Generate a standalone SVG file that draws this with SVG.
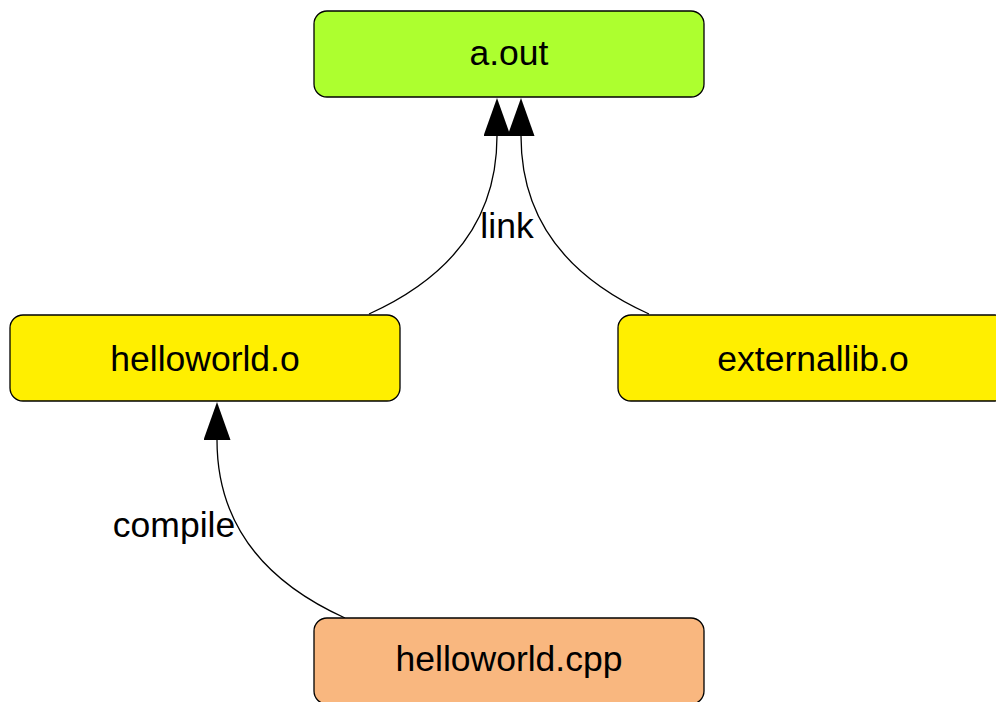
<svg xmlns="http://www.w3.org/2000/svg" width="996" height="702" viewBox="0 0 996 702">
<style>
.node rect{stroke:#000;stroke-width:1.3}
.node text,.lbl{font-family:"Liberation Sans",Arial,sans-serif;font-size:35.5px;fill:#000;text-anchor:middle}
.edge{fill:none;stroke:#000;stroke-width:1.3}
</style>
<defs>
<marker id="arr" viewBox="0 0 38 27" refX="0" refY="13.5" markerWidth="38" markerHeight="27" markerUnits="userSpaceOnUse" orient="auto">
<path d="M0,0 L38,13.5 L0,27 z" fill="#000"/>
</marker>
</defs>
<rect width="996" height="702" fill="#fff"/>
<g id="connectors">
<path class="edge" d="M369,314 C464,271 497,206 497,136" marker-end="url(#arr)"/>
<path class="edge" d="M649,314 C554,271 521,206 521,136" marker-end="url(#arr)"/>
<path class="edge" d="M345,618 C250,575 217,510 217,440" marker-end="url(#arr)"/>
<text class="lbl" x="507" y="238">link</text>
<text class="lbl" x="174" y="537">compile</text>
</g>
<g id="aout" class="node">
<rect x="314" y="11" width="390" height="86" rx="13" fill="#adff2f"/>
<text x="509" y="65">a.out</text>
</g>
<g id="helloworld_o" class="node">
<rect x="10" y="315" width="390" height="86" rx="13" fill="#ffef00"/>
<text x="205" y="371">helloworld.o</text>
</g>
<g id="externallib_o" class="node">
<rect x="618" y="315" width="390" height="86" rx="13" fill="#ffef00"/>
<text x="813" y="371">externallib.o</text>
</g>
<g id="helloworld_cpp" class="node">
<rect x="314" y="618" width="390" height="86" rx="13" fill="#f9b77f"/>
<text x="509" y="671">helloworld.cpp</text>
</g>
</svg>
